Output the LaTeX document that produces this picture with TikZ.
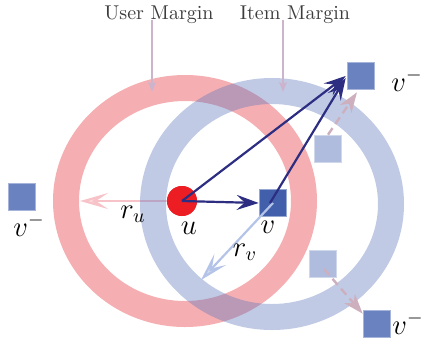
\documentclass[tikz,border=0pt]{standalone}
\usetikzlibrary{arrows.meta}
\definecolor{ringred}{RGB}{245,175,178}
\definecolor{ringblue}{RGB}{98,122,190}
\definecolor{navyc}{RGB}{45,45,130}
\definecolor{ured}{RGB}{236,30,36}
\definecolor{vblue}{RGB}{65,95,170}
\definecolor{vnegblue}{RGB}{107,130,192}
\definecolor{fadeblue}{RGB}{175,188,222}
\definecolor{dashc}{RGB}{205,175,190}
\definecolor{pointc}{RGB}{205,180,205}
\definecolor{rupink}{RGB}{248,195,200}
\definecolor{rvblue}{RGB}{180,195,232}
\definecolor{txtgray}{RGB}{60,60,60}
\tikzset{
  ringpath/.style={even odd rule},
  sq/.style={rectangle, minimum size=13.5pt, inner sep=0pt, line width=0.8pt},
  lbl/.style={font=\Large, inner sep=0pt},
  marg/.style={text=txtgray, inner sep=0pt},
  navyarrow/.style={draw=navyc, line width=1.1pt, -{Stealth[length=11pt,width=7.5pt,inset=4pt]}},
  dasharrow/.style={draw=dashc, line width=1.2pt, dash pattern=on 4pt off 2.5pt, -{Stealth[length=10pt,width=7pt,inset=3pt]}},
  radarrow/.style={line width=1.1pt, -{Stealth[length=14pt,width=8pt,inset=6pt,fill=#1!60!white]}, draw=#1},
  pointer/.style={draw=pointc, line width=0.6pt, -{Stealth[length=5pt,width=4pt,inset=1pt]}}
}
\begin{document}
\begin{tikzpicture}[x=0.5pt,y=-0.5pt]
\useasboundingbox (0,0) rectangle (428,344);
% nodes (centre positions)
\node[circle, fill=ured, minimum size=15pt, inner sep=0pt] (u) at (182,201) {};
\coordinate (ruend) at (80,201);
% pink radius arrow (under blue ring)
\fill[ringred,ringpath] (185,201) ellipse [x radius=132,y radius=126] (185,201) ellipse [x radius=106,y radius=100];
\draw[radarrow=rupink] (u.center) -- (ruend);
\fill[ringblue,opacity=0.4,ringpath] (272,204) ellipse [x radius=132,y radius=126] (272,204) ellipse [x radius=106,y radius=100];
\node[circle, fill=ured, minimum size=15pt, inner sep=0pt] at (u) {};
% margin labels
\node[marg] (um) at (159,15) {User Margin};
\node[marg] (im) at (295,15) {Item Margin};
\coordinate (umtip) at (152,92);
\coordinate (imtip) at (283,92);
\draw[pointer] (um.south -| umtip) ++(0,-4) -- (umtip);
\draw[pointer] (im.south -| imtip) ++(0,-4) -- (imtip);
% squares
\node[sq, fill=vnegblue, draw=vnegblue!60!white] (vt) at (361,76) {};
\node[sq, fill=vnegblue, draw=vnegblue!60!white] (vl) at (22,197) {};
\node[sq, fill=vnegblue, draw=vnegblue!60!white] (vb) at (377,324) {};
\node[sq, fill=vblue, draw=vblue!55!white] (v) at (273,203) {};
\coordinate (rvend) at (201,280);
% dashed arrows
\node[sq, fill=fadeblue, draw=fadeblue!60!white] (f1) at (328,149) {};
\draw[dasharrow] (f1.north) -- ([shift={(-4,2)}]vt.south);
\node[sq, fill=fadeblue, draw=fadeblue!60!white] (f2) at (323,264) {};
\draw[dasharrow] ([shift={(1,5)}]f2.center) -- ([shift={(0,4)}]vb.north west);
% radius arrow of item
\draw[radarrow=rvblue] (v.center) -- (rvend);
% navy arrows
\draw[navyarrow] (u.center) -- (v.west);
\draw[navyarrow] (u.center) -- ([shift={(-1,0)}]vt.west);
\draw[navyarrow] ([shift={(-3,0)}]v.center) -- ([shift={(-1,2)}]vt.west);
% labels
\node[lbl] (ul) at (189,228) {$u$};
\node[lbl] (vlab) at (268,227) {$v$};
\node[lbl] (rul) at (133,214) {$r_u$};
\node[lbl] (rvl) at (245,252) {$r_v$};
\node[lbl] (vtl) at (407,80) {$v^-$};
\node[lbl] (vll) at (29,225) {$v^-$};
\node[lbl] (vbl) at (408,323) {$v^-$};
\end{tikzpicture}
\end{document}
